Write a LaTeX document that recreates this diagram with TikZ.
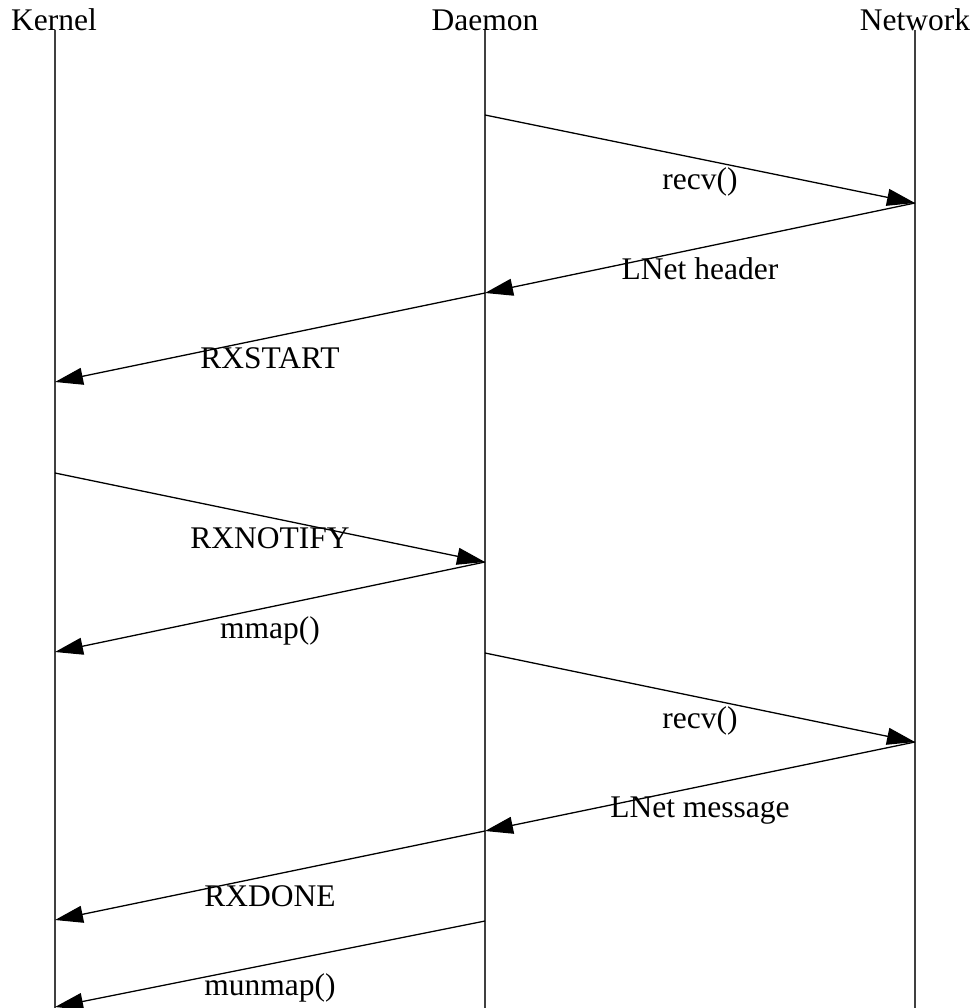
\documentclass[tikz,border=0pt]{standalone}
\usepackage{fontspec}
\setmainfont{Liberation Serif}
\usetikzlibrary{arrows.meta}
\begin{document}
\begin{tikzpicture}[x=1pt,y=-1pt,
  actor/.style={font=\fontsize{31.5}{36}\selectfont, anchor=base, inner sep=0pt},
  lifeline/.style={draw=black!75, line width=1.1pt},
  msg/.style={draw=black, line width=1.3pt, -{Triangle[length=28pt,width=17pt]}},
  lbl/.style={font=\fontsize{31.5}{36}\selectfont, anchor=base, inner sep=0pt, pos=0.5, yshift=-31pt}]
\useasboundingbox (0,0) rectangle (976,1008);
% participants
\node[actor] (K) at (54,31) {Kernel};
\node[actor] (D) at (485,31) {Daemon};
\node[actor] (N) at (915,31) {Network};
% lifelines
\coordinate (Kt) at (55,30);  \coordinate (Kb) at (55,1008);
\coordinate (Dt) at (485,30); \coordinate (Db) at (485,1008);
\coordinate (Nt) at (915,30); \coordinate (Nb) at (915,1008);
\draw[lifeline] (Kt) -- (Kb);
\draw[lifeline] (Dt) -- (Db);
\draw[lifeline] (Nt) -- (Nb);
% event points
\coordinate (d1) at (485,115);
\coordinate (n1) at (915,203);
\coordinate (d2) at (485,293);
\coordinate (k1) at (55,382);
\coordinate (k2) at (55,473);
\coordinate (d3) at (485,562);
\coordinate (k3) at (55,652);
\coordinate (d4) at (485,653);
\coordinate (n2) at (915,742);
\coordinate (d5) at (485,831);
\coordinate (k4) at (55,920);
\coordinate (d6) at (485,921);
\coordinate (k5) at (55,1007);
% messages
\draw[msg] (d1) -- (n1) node[lbl] (m1) {recv()};
\draw[msg] (n1) -- (d2) node[lbl] (m2) {LNet header};
\draw[msg] (d2) -- (k1) node[lbl] (m3) {RXSTART};
\draw[msg] (k2) -- (d3) node[lbl] (m4) {RXNOTIFY};
\draw[msg] (d3) -- (k3) node[lbl] (m5) {mmap()};
\draw[msg] (d4) -- (n2) node[lbl] (m6) {recv()};
\draw[msg] (n2) -- (d5) node[lbl] (m7) {LNet message};
\draw[msg] (d5) -- (k4) node[lbl] (m8) {RXDONE};
\draw[msg] (d6) -- (k5) node[lbl] (m9) {munmap()};
\end{tikzpicture}
\end{document}
